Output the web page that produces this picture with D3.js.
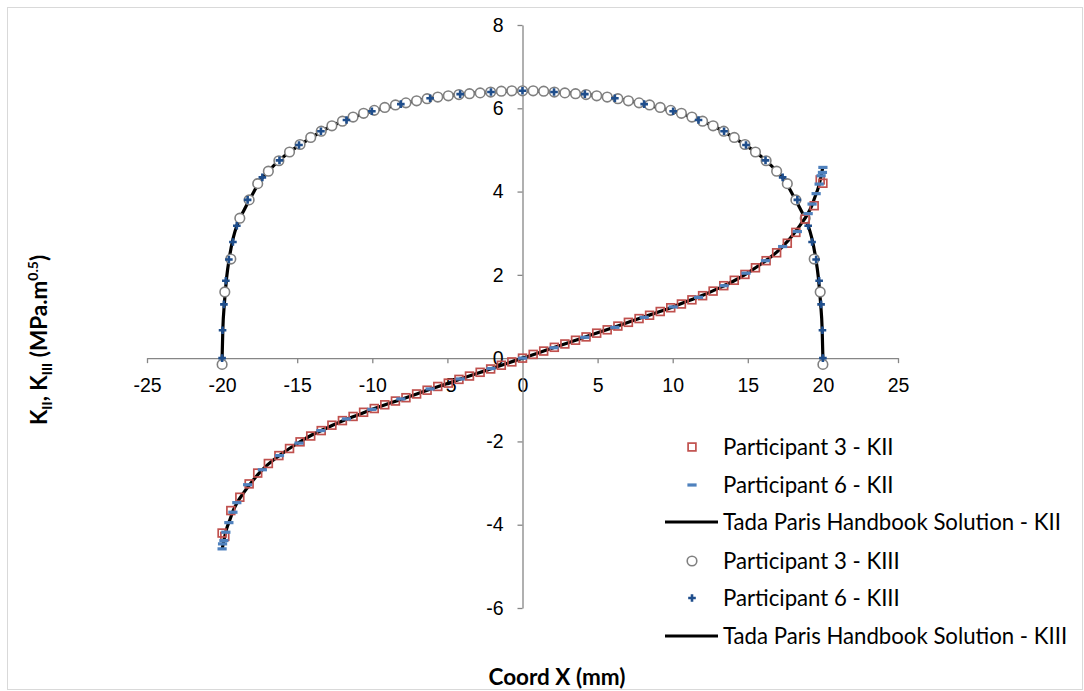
<!DOCTYPE html>
<html>
<head>
<meta charset="utf-8">
<script src="https://cdn.jsdelivr.net/npm/d3@7/dist/d3.min.js"></script>
<style>
  html, body { margin: 0; padding: 0; background: #fff; }
  svg { display: block; font-family: Lato, "Liberation Sans", sans-serif; }
</style>
</head>
<body>
<svg id="chart" width="1084" height="691"></svg>
<script>
// Axis tick values
const xTicks = [-25, -20, -15, -10, -5, 0, 5, 10, 15, 20, 25];
const yTicks = [-6, -4, -2, 0, 2, 4, 6, 8];

// Participant 3 (coordinate along the crack front, mm)
const p3X = [-20.00,-19.82,-19.42,-18.82,-18.20,-17.63,-16.92,-16.22,-15.51,-14.81,-14.10,-13.40,-12.69,-11.99,-11.28,-10.58,-9.87,-9.17,-8.46,-7.76,-7.05,-6.35,-5.64,-4.94,-4.23,-3.53,-2.82,-2.12,-1.41,-0.71,0,0.71,1.41,2.12,2.82,3.53,4.23,4.94,5.64,6.35,7.05,7.76,8.46,9.17,9.87,10.58,11.28,11.99,12.69,13.40,14.10,14.81,15.51,16.22,16.92,17.63,18.20,18.82,19.42,19.82,20.00];
const p3KII = [-4.20,-4.28,-3.66,-3.34,-3.02,-2.76,-2.53,-2.34,-2.17,-2.01,-1.87,-1.74,-1.61,-1.50,-1.40,-1.30,-1.21,-1.12,-1.03,-0.95,-0.86,-0.77,-0.68,-0.60,-0.51,-0.43,-0.34,-0.26,-0.17,-0.09,0,0.09,0.17,0.26,0.34,0.43,0.51,0.60,0.68,0.77,0.86,0.95,1.03,1.12,1.21,1.30,1.40,1.50,1.61,1.74,1.87,2.01,2.17,2.34,2.53,2.76,3.02,3.34,3.66,4.28,4.20];
const p3KIII = [-0.15,1.59,2.38,3.36,3.80,4.19,4.49,4.74,4.95,5.13,5.30,5.45,5.58,5.69,5.79,5.88,5.95,6.02,6.08,6.13,6.18,6.23,6.27,6.30,6.33,6.35,6.37,6.39,6.41,6.42,6.42,6.42,6.41,6.39,6.37,6.35,6.33,6.30,6.27,6.23,6.18,6.13,6.08,6.02,5.95,5.88,5.79,5.69,5.58,5.45,5.30,5.13,4.95,4.74,4.49,4.19,3.80,3.36,2.38,1.59,-0.15];

// Participant 6
const p6X = [-20.00,-19.97,-19.88,-19.75,-19.55,-19.28,-19.02,-18.30,-17.32,-16.18,-14.88,-13.42,-11.72,-10.03,-8.10,-6.15,-4.15,-2.10,0,2.10,4.15,6.15,8.10,10.03,11.72,13.42,14.88,16.18,17.32,18.30,19.02,19.28,19.55,19.75,19.88,19.97,20.00];
const p6KII = [-4.58,-4.46,-4.38,-4.18,-3.95,-3.70,-3.47,-3.04,-2.68,-2.34,-2.04,-1.74,-1.46,-1.23,-0.98,-0.74,-0.50,-0.25,0,0.25,0.50,0.74,0.98,1.23,1.46,1.74,2.04,2.34,2.68,3.04,3.47,3.70,3.95,4.18,4.38,4.46,4.58];
const p6KIII = [0.00,0.67,1.29,1.86,2.37,2.79,3.18,3.80,4.34,4.75,5.12,5.45,5.72,5.93,6.10,6.24,6.34,6.39,6.42,6.39,6.34,6.24,6.10,5.93,5.72,5.45,5.12,4.75,4.34,3.80,3.18,2.79,2.37,1.86,1.29,0.67,0.00];

// Handbook reference solution
const tadaX = [-20,-19.95,-19.85,-19.7,-19.5,-19.25,-19,-18.5,-18,-17.5,-17,-16,-15,-14,-13,-12,-11,-10,-9,-8,-7,-6,-5,-4,-3,-2,-1,0,1,2,3,4,5,6,7,8,9,10,11,12,13,14,15,16,17,17.5,18,18.5,19,19.25,19.5,19.7,19.85,19.95,20];
const tadaKII = [-4.60,-4.50,-4.32,-4.10,-3.90,-3.65,-3.47,-3.20,-2.96,-2.75,-2.57,-2.29,-2.05,-1.84,-1.67,-1.51,-1.37,-1.23,-1.10,-0.98,-0.855,-0.73,-0.61,-0.485,-0.365,-0.245,-0.12,0,0.12,0.245,0.365,0.485,0.61,0.73,0.855,0.98,1.10,1.23,1.37,1.51,1.67,1.84,2.05,2.29,2.57,2.75,2.96,3.20,3.47,3.65,3.90,4.10,4.32,4.50,4.60];
const tadaKIII = [0,0.70,1.30,1.93,2.45,2.90,3.20,3.58,3.92,4.24,4.46,4.81,5.08,5.31,5.52,5.69,5.82,5.93,6.02,6.11,6.19,6.25,6.30,6.34,6.37,6.39,6.41,6.42,6.41,6.39,6.37,6.34,6.30,6.25,6.19,6.11,6.02,5.93,5.82,5.69,5.52,5.31,5.08,4.81,4.46,4.24,3.92,3.58,3.20,2.90,2.45,1.93,1.30,0.70,0];

const legendLabels = [
  "Participant 3 - KII",
  "Participant 6 - KII",
  "Tada Paris Handbook Solution - KII",
  "Participant 3 - KIII",
  "Participant 6 - KIII",
  "Tada Paris Handbook Solution - KIII"
];

const colors = {
  square: "#C0504D",
  dash: "#4F81BD",
  circle: "#808080",
  plus: "#1F4E8C",
  line: "#000000",
  axis: "#868686",
  frame: "#D9D9D9",
  text: "#000000"
};

const svg = d3.select("#chart");

// chart frame
svg.append("rect")
  .attr("x", 7.5).attr("y", 7.5)
  .attr("width", 1075).attr("height", 682)
  .attr("fill", "#fff")
  .attr("stroke", colors.frame).attr("stroke-width", 1);

const x = d3.scaleLinear().domain([-25, 25]).range([147, 898]);
const y = d3.scaleLinear().domain([-6, 8]).range([608, 25]);

const pts = (xs, ys) => xs.map((v, i) => [v, ys[i]]);

// axes crossing at the origin
const xAxis = svg.append("g")
  .attr("transform", `translate(0,${y(0)})`)
  .call(d3.axisBottom(x).tickValues(xTicks).tickSize(5).tickSizeOuter(0).tickPadding(15).tickFormat(d3.format("d")));
const yAxis = svg.append("g")
  .attr("transform", `translate(${x(0)},0)`)
  .call(d3.axisLeft(y).tickValues(yTicks).tickSize(5).tickSizeOuter(0).tickPadding(14).tickFormat(d3.format("d")));

[xAxis, yAxis].forEach(g => {
  g.select(".domain").attr("stroke", colors.axis).attr("stroke-width", 1.3);
  g.selectAll(".tick line").attr("stroke", colors.axis).attr("stroke-width", 1.3);
  g.selectAll(".tick text").attr("fill", colors.text).attr("font-size", 19.5);
});
xAxis.selectAll(".tick text").text(d => d < 0 ? "-" + Math.abs(d) : d);
yAxis.selectAll(".tick text").text(d => d < 0 ? "-" + Math.abs(d) : d);

const lineGen = d3.line().x(d => x(d[0])).y(d => y(d[1])).curve(d3.curveMonotoneX);
const plot = svg.append("g");

// KIII reference line, then its markers
plot.append("path").datum(pts(tadaX, tadaKIII))
  .attr("d", lineGen).attr("fill", "none")
  .attr("stroke", colors.line).attr("stroke-width", 3.2).attr("stroke-linejoin", "round");

plot.append("g").selectAll("circle").data(pts(p3X, p3KIII)).join("circle")
  .attr("cx", d => x(d[0])).attr("cy", d => y(d[1])).attr("r", 4.8)
  .attr("fill", "#fff").attr("stroke", colors.circle).attr("stroke-width", 1.6);

const plusPath = "M-3.8,0H3.8M0,-3.8V3.8";
plot.append("g").selectAll("path").data(pts(p6X, p6KIII)).join("path")
  .attr("transform", d => `translate(${x(d[0])},${y(d[1])})`)
  .attr("d", plusPath).attr("stroke", colors.plus).attr("stroke-width", 2.6);

// KII reference line, then its markers
plot.append("path").datum(pts(tadaX, tadaKII))
  .attr("d", lineGen).attr("fill", "none")
  .attr("stroke", colors.line).attr("stroke-width", 3.2).attr("stroke-linejoin", "round");

plot.append("g").selectAll("rect").data(pts(p3X, p3KII)).join("rect")
  .attr("x", d => x(d[0]) - 3.9).attr("y", d => y(d[1]) - 3.9)
  .attr("width", 7.8).attr("height", 7.8)
  .attr("fill", "none").attr("stroke", colors.square).attr("stroke-width", 1.7);

plot.append("g").selectAll("rect").data(pts(p6X, p6KII)).join("rect")
  .attr("x", d => x(d[0]) - 4.6).attr("y", d => y(d[1]) - 1.6)
  .attr("width", 9.2).attr("height", 3.2)
  .attr("fill", colors.dash);

// legend
const legend = svg.append("g");
const rowY = [447, 485, 522, 561, 598, 636];
const markerX = 692;
legendLabels.forEach((label, i) => {
  const cy = rowY[i];
  const g = legend.append("g");
  if (i === 0) {
    g.append("rect").attr("x", markerX - 3.9).attr("y", cy - 3.9).attr("width", 7.8).attr("height", 7.8)
      .attr("fill", "none").attr("stroke", colors.square).attr("stroke-width", 1.7);
  } else if (i === 1) {
    g.append("rect").attr("x", markerX - 4.6).attr("y", cy - 1.6).attr("width", 9.2).attr("height", 3.2)
      .attr("fill", colors.dash);
  } else if (i === 3) {
    g.append("circle").attr("cx", markerX).attr("cy", cy).attr("r", 4.8)
      .attr("fill", "#fff").attr("stroke", colors.circle).attr("stroke-width", 1.6);
  } else if (i === 4) {
    g.append("path").attr("transform", `translate(${markerX},${cy})`).attr("d", plusPath)
      .attr("stroke", colors.plus).attr("stroke-width", 2.6);
  } else {
    g.append("line").attr("x1", 665).attr("x2", 718).attr("y1", cy).attr("y2", cy)
      .attr("stroke", colors.line).attr("stroke-width", 3.2);
  }
  g.append("text").attr("x", 723).attr("y", cy).attr("dy", "0.36em")
    .attr("font-size", 22.2).attr("fill", colors.text).text(label);
});

// axis titles
svg.append("text")
  .attr("x", 557).attr("y", 685)
  .attr("text-anchor", "middle").attr("font-weight", "bold").attr("font-size", 22.5)
  .text("Coord X (mm)");

const yTitle = svg.append("text")
  .attr("transform", "translate(47,340) rotate(-90)")
  .attr("text-anchor", "middle").attr("font-weight", "bold").attr("font-size", 22.5);
yTitle.append("tspan").text("K");
yTitle.append("tspan").attr("font-size", 14).attr("dy", 5).text("II");
yTitle.append("tspan").attr("dy", -5).text(", K");
yTitle.append("tspan").attr("font-size", 14).attr("dy", 5).text("III");
yTitle.append("tspan").attr("dy", -5).text(" (MPa.m");
yTitle.append("tspan").attr("font-size", 14).attr("dy", -9).text("0.5");
yTitle.append("tspan").attr("dy", 9).text(")");
</script>
</body>
</html>
